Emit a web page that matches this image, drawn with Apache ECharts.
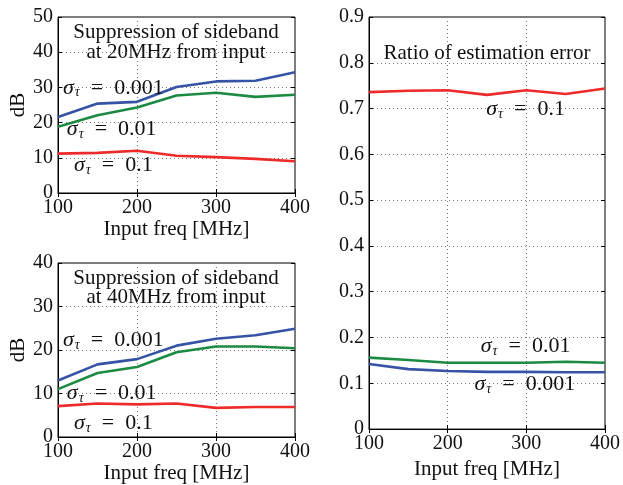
<!DOCTYPE html>
<html>
<head>
<meta charset="utf-8">
<script src="https://cdn.jsdelivr.net/npm/echarts@6/dist/echarts.min.js"></script>
<style>
  html, body { margin: 0; padding: 0; background: #fff; }
  #main { width: 623px; height: 485px; }
</style>
</head>
<body>
<div id="main"></div>
<script>
// input frequency [MHz], shared by all three panels
var freqs = [100, 150, 200, 250, 300, 350, 400];

// sideband suppression at 20MHz from input [dB]
var sb20_s001 = [21.6, 25.4, 25.9, 30.1, 31.7, 31.9, 34.3];
var sb20_s01  = [18.8, 22.1, 24.3, 27.7, 28.5, 27.3, 27.9];
var sb20_s1   = [11.2, 11.4, 12.0, 10.6, 10.2, 9.7, 9.0];

// sideband suppression at 40MHz from input [dB]
var sb40_s001 = [13.0, 16.7, 17.9, 21.0, 22.6, 23.4, 24.9];
var sb40_s01  = [11.0, 14.7, 16.1, 19.5, 20.8, 20.8, 20.4];
var sb40_s1   = [7.1, 7.7, 7.5, 7.7, 6.7, 6.9, 6.9];

// ratio of estimation error
var err_s001 = [0.142, 0.131, 0.127, 0.125, 0.125, 0.124, 0.124];
var err_s01  = [0.156, 0.151, 0.145, 0.145, 0.145, 0.147, 0.145];
var err_s1   = [0.736, 0.739, 0.740, 0.730, 0.740, 0.732, 0.744];

var BLUE = '#3653a6', GREEN = '#1b8a43', RED = '#ee2a2a';
var SERIF = '"Liberation Serif", "DejaVu Serif", serif';

var myChart = echarts.init(document.getElementById('main'));

function pairs(vals) {
    return freqs.map(function (f, i) { return [f, vals[i]]; });
}

// sigma_tau label: rich text, anchored in data coords
function sigmaLabel(x, y, txt) {
    return {
        coord: [x, y],
        symbol: 'circle', symbolSize: 0,
        label: {
            show: true, position: 'inside',
            formatter: '{s|σ}{t|τ}{n|  =  ' + txt + '}',
            rich: {
                s: { fontFamily: SERIF, fontStyle: 'italic', fontSize: 22, color: '#111' },
                t: { fontFamily: SERIF, fontStyle: 'italic', fontSize: 14, color: '#111',
                     verticalAlign: 'bottom', padding: [10, 0, 0, 1] },
                n: { fontFamily: SERIF, fontSize: 22, color: '#111' }
            }
        }
    };
}

function lineSerie(x, y, color, vals, labels) {
    var s = {
        type: 'line', xAxisIndex: x, yAxisIndex: y,
        data: pairs(vals), showSymbol: false, symbol: 'none',
        lineStyle: { color: color, width: 2.6 },
        animation: false, silent: true
    };
    if (labels) {
        s.markPoint = { silent: true, animation: false, data: labels };
    }
    return s;
}

var grids = [
    { left: 58, top: 17, width: 237, height: 176 },
    { left: 58, top: 263, width: 237, height: 174 },
    { left: 369, top: 17, width: 237, height: 420 }
];
var yRanges = [[0, 50, 10], [0, 40, 10], [0, 0.9, 0.1]];

var gridLine = { show: true, lineStyle: { color: '#777', type: [1, 3], width: 1 } };
var axisLineBlack = { show: true, lineStyle: { color: '#000', width: 1 } };
var tickIn = { show: true, inside: true, length: 4, lineStyle: { color: '#000' } };

var xAxes = [], yAxes = [];
grids.forEach(function (g, i) {
    g.show = true;
    g.borderColor = '#000';
    g.borderWidth = 1;
    xAxes.push({
        type: 'value', gridIndex: i, min: 100, max: 400, interval: 100,
        name: 'Input freq [MHz]', nameLocation: 'middle', nameGap: 23,
        nameTextStyle: { fontFamily: SERIF, fontSize: 21, color: '#111' },
        axisLine: axisLineBlack, axisTick: tickIn, splitLine: gridLine,
        axisLabel: { fontFamily: SERIF, fontSize: 20, color: '#111', margin: 5 }
    });
    yAxes.push({
        type: 'value', gridIndex: i, min: yRanges[i][0], max: yRanges[i][1], interval: yRanges[i][2],
        name: i < 2 ? 'dB' : '', nameLocation: 'middle', nameGap: 27,
        nameTextStyle: { fontFamily: SERIF, fontSize: 21, color: '#111' },
        axisLine: axisLineBlack, axisTick: tickIn, splitLine: gridLine,
        axisLabel: { fontFamily: SERIF, fontSize: 20, color: '#111', margin: 5,
                     formatter: function (v) { return i < 2 ? String(v) : (v === 0 ? '0' : v.toFixed(1)); } }
    });
});
// ticks on top and right edges too
grids.forEach(function (g, i) {
    xAxes.push({
        type: 'value', gridIndex: i, position: 'top', min: 100, max: 400, interval: 100,
        axisLine: { show: false }, axisTick: tickIn, axisLabel: { show: false }, splitLine: { show: false }
    });
    yAxes.push({
        type: 'value', gridIndex: i, position: 'right', min: yRanges[i][0], max: yRanges[i][1], interval: yRanges[i][2],
        axisLine: { show: false }, axisTick: tickIn, axisLabel: { show: false }, splitLine: { show: false }
    });
});

var titleStyle = { fontFamily: SERIF, fontSize: 21, fill: '#111', textAlign: 'center', textVerticalAlign: 'middle' };

var option = {
    backgroundColor: '#fff',
    animation: false,
    grid: grids,
    xAxis: xAxes,
    yAxis: yAxes,
    graphic: [
        { type: 'text', x: 176, y: 32, style: Object.assign({ text: 'Suppression of sideband' }, titleStyle) },
        { type: 'text', x: 176, y: 52, style: Object.assign({ text: 'at 20MHz from input' }, titleStyle) },
        { type: 'text', x: 176, y: 278, style: Object.assign({ text: 'Suppression of sideband' }, titleStyle) },
        { type: 'text', x: 176, y: 297, style: Object.assign({ text: 'at 40MHz from input' }, titleStyle) },
        { type: 'text', x: 487, y: 53, style: Object.assign({ text: 'Ratio of estimation error' }, titleStyle) }
    ],
    series: [
        lineSerie(0, 0, BLUE, sb20_s001, [sigmaLabel(170, 29.9, '0.001')]),
        lineSerie(0, 0, GREEN, sb20_s01, [sigmaLabel(168, 18.2, '0.01')]),
        lineSerie(0, 0, RED, sb20_s1, [sigmaLabel(170, 8.0, '0.1')]),
        lineSerie(1, 1, BLUE, sb40_s001, [sigmaLabel(170, 22.2, '0.001')]),
        lineSerie(1, 1, GREEN, sb40_s01, [sigmaLabel(168, 10.0, '0.01')]),
        lineSerie(1, 1, RED, sb40_s1, [sigmaLabel(170, 3.1, '0.1')]),
        lineSerie(2, 2, BLUE, err_s001, [sigmaLabel(298, 0.098, '0.001')]),
        lineSerie(2, 2, GREEN, err_s01, [sigmaLabel(299, 0.18, '0.01')]),
        lineSerie(2, 2, RED, err_s1, [sigmaLabel(299, 0.698, '0.1')])
    ]
};
myChart.setOption(option);
</script>
</body>
</html>
